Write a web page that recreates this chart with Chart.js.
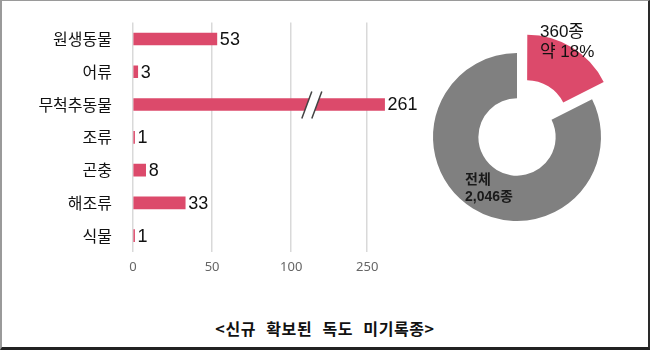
<!DOCTYPE html>
<html>
<head>
<meta charset="utf-8">
<script src="https://cdn.jsdelivr.net/npm/chart.js@4"></script>
<style>
  html, body { margin: 0; padding: 0; background: #fff; }
  body { width: 650px; height: 350px; position: relative; overflow: hidden; }
  #frame {
    position: absolute; left: 0; top: 0; width: 650px; height: 350px; box-sizing: border-box;
    border-left: 2px solid #9a9a9a; border-top: 1px solid #9a9a9a;
    border-right: 2px solid #2a2a2a; border-bottom: 3px solid #222;
  }
  #barWrap { position: absolute; left: 0; top: 0; width: 430px; height: 290px; }
  #pieWrap { position: absolute; left: 400px; top: 0; width: 240px; height: 260px; }
  #caption {
    position: absolute; left: 0; top: 316px; width: 650px; text-align: center;
    font: bold 16px 'Noto Sans CJK KR', sans-serif; color: #111;
    word-spacing: 6px; letter-spacing: 0.6px;
  }
</style>
</head>
<body>
<div id="frame"></div>
<div id="barWrap"><canvas id="barChart"></canvas></div>
<div id="pieWrap"><canvas id="pieChart"></canvas></div>
<div id="caption">&lt;신규 확보된 독도 미기록종&gt;</div>
<script>
// newly recorded species by group
const categories = ["원생동물", "어류", "무척추동물", "조류", "곤충", "해조류", "식물"];
const counts = [53, 3, 261, 1, 8, 33, 1];
const tickValues = [0, 50, 100, 250];

// share of all species
const shareLabels = ["미기록종", "기존"];
const shareValues = [360, 1686];
const shareTotal = "2,046";

// broken axis: values above the break are pulled left
const axisBreak = 113;
const breakShift = 102;
const squash = v => (v > axisBreak ? v - breakShift : v);

const barColor = "#dc4a6b";
const labelFont = "'Liberation Sans', Arial, 'Noto Sans CJK KR', sans-serif";

const valueLabels = {
    id: "valueLabels",
    afterDatasetsDraw(chart) {
        const ctx = chart.ctx;
        const meta = chart.getDatasetMeta(0);
        ctx.save();
        ctx.font = "18px " + labelFont;
        ctx.fillStyle = "#111";
        ctx.textAlign = "left";
        ctx.textBaseline = "middle";
        meta.data.forEach((bar, i) => {
            ctx.fillText(String(counts[i]), bar.x + 3, bar.y + 1);
        });
        ctx.restore();
    }
};

const breakMark = {
    id: "breakMark",
    afterDatasetsDraw(chart) {
        const ctx = chart.ctx;
        const x = chart.scales.x.getPixelForValue(axisBreak);
        chart.getDatasetMeta(0).data.forEach((bar, i) => {
            if (counts[i] <= axisBreak) return;
            const y = bar.y;
            ctx.save();
            ctx.fillStyle = "#fff";
            ctx.beginPath();
            ctx.moveTo(x - 10, y + 14);
            ctx.lineTo(x, y - 13);
            ctx.lineTo(x + 10, y - 13);
            ctx.lineTo(x, y + 14);
            ctx.closePath();
            ctx.fill();
            ctx.strokeStyle = "#444";
            ctx.lineWidth = 1.5;
            ctx.beginPath();
            ctx.moveTo(x - 10, y + 14);
            ctx.lineTo(x, y - 13);
            ctx.moveTo(x, y + 14);
            ctx.lineTo(x + 10, y - 13);
            ctx.stroke();
            ctx.restore();
        });
    }
};

new Chart(document.getElementById("barChart"), {
    type: "bar",
    data: {
        labels: categories,
        datasets: [{
            data: counts.map(squash),
            backgroundColor: barColor,
            barThickness: 12,
            borderWidth: 0
        }]
    },
    options: {
        indexAxis: "y",
        responsive: true,
        maintainAspectRatio: false,
        animation: false,
        layout: { padding: { top: 20, right: 28, left: 0, bottom: 0 } },
        plugins: { legend: { display: false }, tooltip: { enabled: false } },
        scales: {
            x: {
                min: 0,
                max: 170,
                afterBuildTicks: scale => {
                    scale.ticks = tickValues.map(v => ({ value: squash(v) }));
                },
                ticks: {
                    callback: (value, index) => tickValues[index],
                    color: "#666",
                    font: { family: "'Noto Sans', sans-serif", size: 13 },
                    padding: 7
                },
                grid: { color: "#d9d9d9", lineWidth: 1.5, drawTicks: false },
                border: { display: false },
                afterFit: scale => { scale.height = 38; }
            },
            y: {
                grid: { display: false },
                border: { display: false },
                ticks: {
                    color: "#111",
                    font: { family: "'Noto Sans CJK KR', sans-serif", size: 16 },
                    padding: 13
                },
                afterFit: scale => { scale.width = 133; }
            }
        }
    },
    plugins: [valueLabels, breakMark]
});

const shareText = {
    id: "shareText",
    afterDatasetsDraw(chart) {
        const ctx = chart.ctx;
        const arc = chart.getDatasetMeta(0).data[0];
        const cx = arc.x, cy = arc.y;
        ctx.save();
        ctx.fillStyle = "#111";
        ctx.textAlign = "left";
        ctx.textBaseline = "middle";
        ctx.font = "17px " + labelFont;
        ctx.fillText(shareValues[0] + "종", cx + 23, cy - 105);
        const pct = Math.round(shareValues[0] / (shareValues[0] + shareValues[1]) * 100);
        ctx.fillText("약 " + pct + "%", cx + 23, cy - 85);
        ctx.font = "bold 14px " + labelFont;
        ctx.fillStyle = "#1a1a1a";
        ctx.fillText("전체", cx - 52, cy + 43);
        ctx.fillText(shareTotal + "종", cx - 52, cy + 60);
        ctx.restore();
    }
};

new Chart(document.getElementById("pieChart"), {
    type: "doughnut",
    data: {
        labels: shareLabels,
        datasets: [{
            data: shareValues,
            backgroundColor: [barColor, "#808080"],
            borderWidth: 0,
            offset: [76, 0]
        }]
    },
    options: {
        responsive: true,
        maintainAspectRatio: false,
        animation: false,
        radius: 84,
        cutout: "46%",
        layout: { padding: { left: 22, right: 28, top: 42, bottom: 28 } },
        plugins: { legend: { display: false }, tooltip: { enabled: false } }
    },
    plugins: [shareText]
});
</script>
</body>
</html>
